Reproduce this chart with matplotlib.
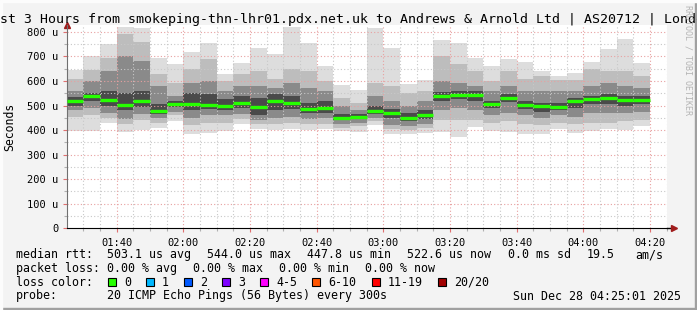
import matplotlib
matplotlib.use("Agg")
import matplotlib.pyplot as plt
from matplotlib.patches import Rectangle
import numpy as np

# 5-minute intervals starting 01:25, values in microseconds
# smoke bands: outer (min/max), level 3, level 6, level 9, plus the median
rtt_max = [645, 700, 750, 818, 815, 692, 671, 720, 755, 627, 673, 735, 708, 818, 755, 662, 583, 563,
           815, 736, 588, 603, 767, 756, 695, 661, 690, 676, 642, 622, 631, 676, 730, 771, 672]
rtt_hi3 = [610, 645, 695, 790, 760, 630, 590, 650, 690, 600, 630, 640, 610, 650, 640, 600, 530, 510,
           590, 580, 550, 560, 700, 670, 640, 600, 640, 610, 620, 605, 605, 650, 640, 640, 620]
rtt_hi6 = [560, 600, 640, 700, 680, 580, 540, 590, 600, 560, 580, 580, 570, 590, 570, 560, 500, 480,
           540, 520, 500, 520, 600, 590, 580, 560, 580, 560, 560, 560, 560, 580, 590, 580, 570]
rtt_hi9 = [535, 550, 560, 550, 560, 505, 520, 550, 545, 525, 540, 530, 545, 540, 510, 520, 465, 465,
           500, 485, 470, 480, 555, 560, 560, 520, 545, 520, 510, 510, 530, 540, 545, 540, 540]
rtt_median = [519, 538, 522, 503, 519, 479, 506, 507, 503, 497, 511, 493, 519, 512, 487, 491, 451, 455,
              479, 470, 451, 461, 537, 544, 544, 507, 532, 503, 499, 495, 518, 527, 531, 523, 523]
rtt_lo9 = [500, 520, 500, 480, 495, 465, 495, 480, 485, 480, 490, 460, 480, 485, 470, 470, 440, 445,
           465, 450, 435, 445, 520, 525, 520, 490, 515, 485, 475, 480, 490, 505, 505, 500, 505]
rtt_lo6 = [480, 490, 470, 445, 465, 450, 475, 450, 460, 460, 465, 440, 450, 455, 445, 450, 425, 430,
           450, 420, 415, 425, 480, 490, 480, 460, 470, 460, 450, 460, 455, 470, 470, 470, 475]
rtt_lo3 = [455, 460, 450, 425, 440, 430, 460, 420, 430, 430, 445, 425, 425, 430, 425, 425, 410, 415,
           435, 405, 400, 410, 440, 440, 440, 430, 435, 425, 420, 430, 425, 430, 430, 435, 440]
rtt_min = [396, 398, 430, 393, 400, 408, 438, 386, 388, 397, 425, 406, 402, 405, 400, 405, 395, 393,
           421, 386, 386, 390, 393, 370, 414, 395, 393, 386, 386, 406, 390, 396, 406, 400, 418]

time_labels = ["01:40", "02:00", "02:20", "02:40", "03:00", "03:20", "03:40", "04:00", "04:20"]
time_ticks = [15, 35, 55, 75, 95, 115, 135, 155, 175]  # minutes after 01:25

loss_labels = ["0", "1", "2", "3", "4-5", "6-10", "11-19", "20/20"]
loss_colors = ["#26ff00", "#00b8ff", "#0059ff", "#7e00ff", "#ff00ff", "#ff5500", "#ff0000", "#a10000"]

W, H = 697, 310
MONO = "DejaVu Sans Mono"


def fx(x):
    return x / W


def fy(y):
    return 1 - y / H


fig = plt.figure(figsize=(W / 100, H / 100), dpi=100)
fig.patch.set_facecolor("#f3f3f3")

ax = fig.add_axes([fx(66.7), fy(228.3), 600 / W, 203.3 / H])
ax.set_facecolor("white")
ax.set_xlim(0, 180)
ax.set_ylim(0, 828)

starts = np.arange(len(rtt_median)) * 5
bands = [(rtt_min, rtt_max, "#dddddd"),
         (rtt_lo3, rtt_hi3, "#bdbdbd"),
         (rtt_lo6, rtt_hi6, "#8a8a8a"),
         (rtt_lo9, rtt_hi9, "#4a4a4a")]
for lo, hi, col in bands:
    lo = np.array(lo)
    hi = np.array(hi)
    ax.bar(starts, hi - lo, bottom=lo, width=5, align="edge", color=col, linewidth=0, zorder=1)

# grid (rrdtool draws it over the smoke)
for v in range(50, 828, 50):
    major = v % 100 == 0
    ax.axhline(v, color="#e8a0a0" if major else "#c8c8c8", lw=0.8, ls=(0, (1, 2)), zorder=2)
for t in range(5, 181, 5):
    major = (t - 15) % 20 == 0
    ax.axvline(t, color="#e8a0a0" if major else "#c8c8c8", lw=0.8, ls=(0, (1, 2)), zorder=2)

ax.hlines(rtt_median, starts, starts + 5, color=loss_colors[0], lw=2.4, zorder=3)

for s in ["top", "right"]:
    ax.spines[s].set_visible(False)
ax.spines["left"].set_color("#707070")
ax.spines["bottom"].set_color("black")
ax.plot([1.0, 1.01], [0, 0], transform=ax.transAxes, color="black", lw=1, clip_on=False)
ax.plot([0], [1.0], marker="^", color="#a01c1c", ms=4, transform=ax.transAxes, clip_on=False)
ax.plot([1.012], [0], marker=">", color="#a01c1c", ms=4, transform=ax.transAxes, clip_on=False)

ax.set_yticks(range(0, 801, 100))
ax.set_yticklabels(["0"] + ["%d u" % v for v in range(100, 801, 100)])
ax.set_yticks(range(50, 828, 100), minor=True)
ax.set_xticks(time_ticks)
ax.set_xticklabels(time_labels)
ax.set_xticks(range(5, 181, 5), minor=True)
ax.tick_params(axis="both", which="major", length=3, width=0.8, color="#e07070",
               labelsize=7.5, pad=3, labelfontfamily=MONO)
ax.tick_params(axis="both", which="minor", length=2, width=0.8, color="#b0b0b0")
ax.tick_params(axis="x", which="major", pad=4)

fig.text(fx(348.5), fy(19), "Last 3 Hours from smokeping-thn-lhr01.pdx.net.uk to Andrews & Arnold Ltd | AS20712 | London",
         ha="center", va="center", fontsize=9.5, family=MONO)
fig.text(fx(10), fy(127), "Seconds", rotation=90, ha="center", va="center", fontsize=8.3, family=MONO)
fig.text(fx(688), fy(60), "RRDTOOL / TOBI OETIKER", rotation=270, ha="center", va="center",
         fontsize=6, family=MONO, color="#b4b4b4")

row_y = [254.7, 268.3, 282.3, 296]
legend_rows = [
    [(16, "median rtt:"), (107.3, "503.1 us avg"), (207.3, "544.0 us max"), (306.7, "447.8 us min"),
     (407.3, "522.6 us now"), (507.7, "0.0 ms sd"), (586.7, "19.5"), (635.7, "am/s")],
    [(16, "packet loss:"), (107.3, "0.00 % avg"), (193.3, "0.00 % max"), (279.3, "0.00 % min"),
     (365, "0.00 % now")],
    [(16, "loss color:")],
    [(16, "probe:"), (107.3, "20 ICMP Echo Pings (56 Bytes) every 300s"), (513.3, "Sun Dec 28 04:25:01 2025")],
]
for y, row in zip(row_y, legend_rows):
    for x, s in row:
        fig.text(fx(x), fy(y), s, ha="left", va="center", fontsize=8.4, family=MONO)

bx = 108
for lab, col in zip(loss_labels, loss_colors):
    fig.patches.append(Rectangle((fx(bx), fy(row_y[2] + 4)), 8 / W, 8 / H, transform=fig.transFigure,
                                 facecolor=col, edgecolor="black", lw=0.8))
    fig.text(fx(bx + 16), fy(row_y[2]), lab, ha="left", va="center", fontsize=8.4, family=MONO)
    bx = bx + 16 + 7.05 * len(lab) + 15

# 3d frame of the canvas
fig.patches.append(Rectangle((0, 0), 1, 2 / H, transform=fig.transFigure, color="#a0a0a0"))
fig.patches.append(Rectangle((1 - 2 / W, 0), 2 / W, 1, transform=fig.transFigure, color="#a0a0a0"))
fig.patches.append(Rectangle((0, 1 - 2 / H), 1, 2 / H, transform=fig.transFigure, color="#fcfcfc"))
fig.patches.append(Rectangle((0, 0), 2 / W, 1, transform=fig.transFigure, color="#fcfcfc"))

fig.savefig("out.png", dpi=100)
